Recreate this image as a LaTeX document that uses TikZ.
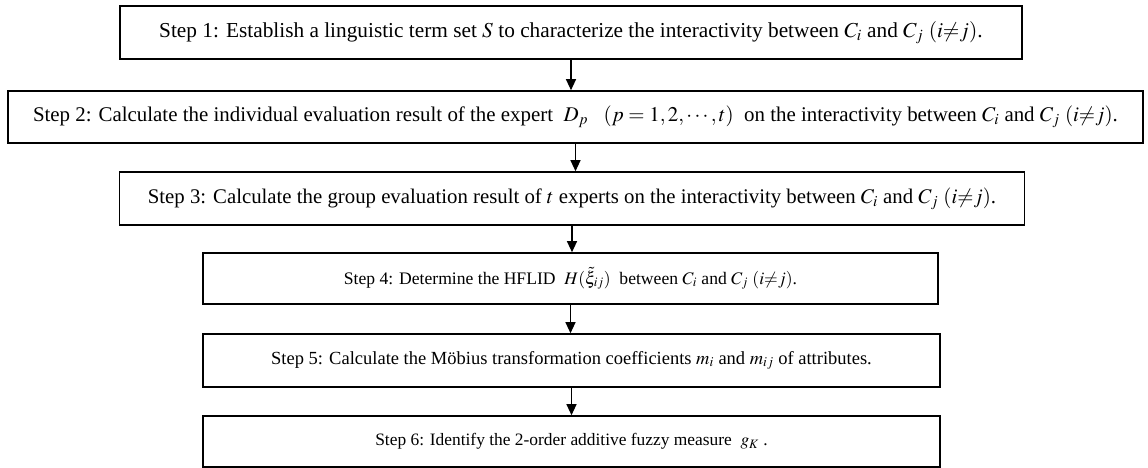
\documentclass[tikz,border=0pt]{standalone}
\usepackage{mathptmx}
\usepackage[no-math]{fontspec}
\setmainfont{Liberation Serif}
\usetikzlibrary{arrows.meta,positioning}
\tikzset{
    stepbox/.style={draw, line width=1.6pt, inner sep=0pt, align=center, font=\fontsize{#1}{#1}\selectfont},
    stepbox/.default=18,
    edge/.style={draw, line width=1.2pt, -{Triangle[length=11pt,width=10pt]}}
}
\newcommand{\ineqj}{$(i{\neq}j)$}

\begin{document}
\begin{tikzpicture}[x=1pt, y=-1pt]
    \useasboundingbox (0,0) rectangle (1148,468);
    % Steps
    \node[stepbox=21.3, minimum width=902pt, minimum height=53pt] (s1) at (571,32.5)
        {Step 1: Establish a linguistic term set $S$ to characterize the interactivity between $C_i$ and $C_j$ \ineqj.};
    \node[stepbox=20.9, minimum width=1135pt, minimum height=52pt] (s2) at (575.5,117)
        {Step 2: Calculate the individual evaluation result of the expert \ $D_p$ \ \ $(p=1,2,\cdots,t)$ \ on the interactivity between $C_i$ and $C_j$ \ineqj.};
    \node[stepbox=20.8, minimum width=905pt, minimum height=53pt] (s3) at (572,198.5)
        {Step 3: Calculate the group evaluation result of $t$ experts on the interactivity between $C_i$ and $C_j$ \ineqj.};
    \node[stepbox=17.6, minimum width=735pt, minimum height=51pt] (s4) at (570.5,278.5)
        {Step 4: Determine the HFLID \ $H(\tilde{\xi}_{ij})$ \ between $C_i$ and $C_j$ \ineqj.};
    \node[stepbox=18.5, minimum width=737pt, minimum height=53pt] (s5) at (571.5,360.5)
        {Step 5: Calculate the Möbius transformation coefficients $m_i$ and $m_{ij}$ of attributes.};
    \node[stepbox=17.4, minimum width=737pt, minimum height=51pt] (s6) at (571.5,441.5)
        {Step 6: Identify the 2-order additive fuzzy measure \ $g_K$ .};

    % edges
    \foreach \a/\b in {s1/s2, s2/s3, s3/s4, s4/s5, s5/s6}
        \draw[edge] (\a.south) -- (\a.south |- \b.north);
\end{tikzpicture}
\end{document}
